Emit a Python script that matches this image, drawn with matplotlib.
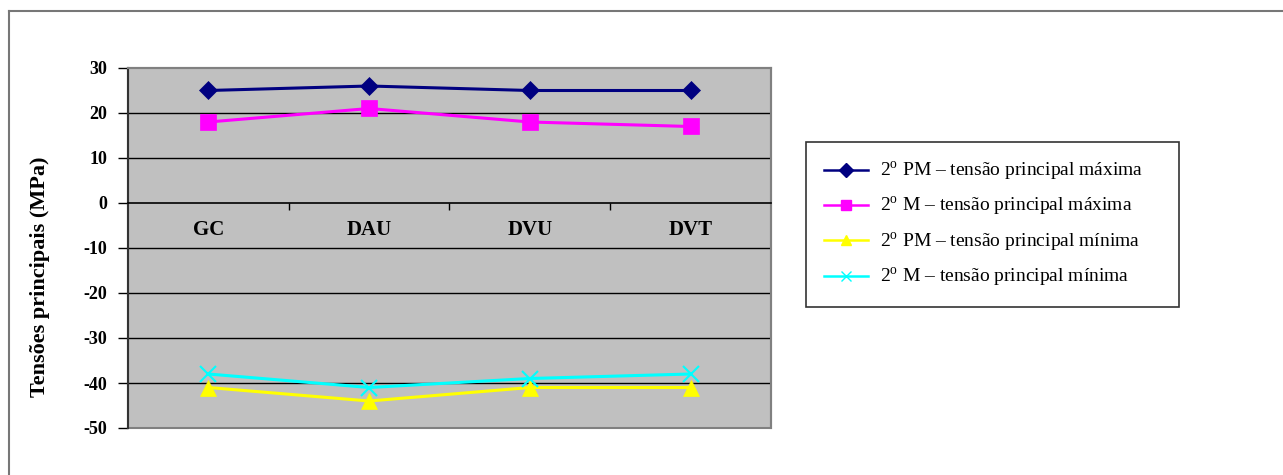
import matplotlib
matplotlib.use('Agg')
import matplotlib.pyplot as plt
from matplotlib.patches import Rectangle
from matplotlib.lines import Line2D

plt.rcParams['font.family'] = ['Liberation Serif', 'DejaVu Serif']
plt.rcParams['mathtext.fontset'] = 'custom'
plt.rcParams['mathtext.rm'] = 'Liberation Serif'

categories = ['GC', 'DAU', 'DVU', 'DVT']
pm_max = [25, 26, 25, 25]
m_max = [18, 21, 18, 17]
pm_min = [-41, -44, -41, -41]
m_min = [-38, -41, -39, -38]
labels = [r'2$^{\mathrm{o}}$ PM – tensão principal máxima',
          r'2$^{\mathrm{o}}$ M – tensão principal máxima',
          r'2$^{\mathrm{o}}$ PM – tensão principal mínima',
          r'2$^{\mathrm{o}}$ M – tensão principal mínima']
yticks = [30, 20, 10, 0, -10, -20, -30, -40, -50]

W, H = 1283, 475
fig = plt.figure(figsize=(W / 100, H / 100), dpi=100)

# outer frame (top and left edges visible)
fig.add_artist(Line2D([9 / W, 9 / W], [0, 1 - 11 / H], color='#777777', lw=1.5))
fig.add_artist(Line2D([9 / W, 1], [1 - 11 / H, 1 - 11 / H], color='#777777', lw=1.5))

ax = fig.add_axes([128 / W, 1 - 428 / H, (771 - 128) / W, (428 - 68) / H])
ax.set_facecolor('#C0C0C0')

x = list(range(len(categories)))
series = [
    (pm_max, '#000080', 'D', 9),
    (m_max, '#FF00FF', 's', 12),
    (pm_min, '#FFFF00', '^', 12),
    (m_min, '#00FFFF', 'x', 12),
]
handles = []
for (vals, col, mk, ms), lab in zip(series, labels):
    ax.plot(x, vals, color=col, lw=2.2, marker=mk, markersize=ms,
            markeredgewidth=1.5 if mk == 'x' else 0.5, markeredgecolor=col,
            clip_on=False, zorder=3)
    handles.append(Line2D([], [], color=col, lw=1.8, marker=mk,
                          markersize=7, markeredgecolor=col, label=lab))

ax.set_xlim(-0.5, 3.5)
ax.set_ylim(-50, 30)
ax.set_yticks(yticks)
ax.set_yticklabels([str(v) for v in yticks], fontsize=13, fontweight='bold')
ax.tick_params(axis='y', length=7, width=1, pad=8, color='black')
for v in yticks[1:-1]:
    if v != 0:
        ax.axhline(v, color='black', lw=1, zorder=1)

for s in ['top', 'right', 'left']:
    ax.spines[s].set_color('#808080')
    ax.spines[s].set_linewidth(1.5)
ax.spines['left'].set_color('#333333')
ax.spines['bottom'].set_position(('data', 0))
ax.spines['bottom'].set_color('black')
ax.spines['bottom'].set_linewidth(1.2)
ax.add_patch(Rectangle((0, 0), 1, 1, transform=ax.transAxes, fill=False,
                       edgecolor='#808080', lw=1.5, zorder=0.5, clip_on=False))

ax.set_xticks([0.5, 1.5, 2.5])
ax.set_xticklabels([])
ax.tick_params(axis='x', which='major', length=5, width=1, direction='out')
ax.set_xticks(x, minor=True)
ax.set_xticklabels(categories, minor=True, fontsize=15, fontweight='bold')
ax.tick_params(axis='x', which='minor', length=0, pad=12)

fig.text(40 / W, 1 - 277 / H, 'Tensões principais (MPa)', rotation=90,
         ha='center', va='center', fontsize=16, fontweight='bold')

leg = fig.legend(handles=handles, loc='center', mode='expand',
                 bbox_to_anchor=(806 / W, 1 - 308 / H, (1179 - 806) / W, 167 / H),
                 fontsize=14, frameon=True, fancybox=False, handlelength=2.3,
                 handletextpad=0.6, labelspacing=0.62, borderpad=0.9,
                 borderaxespad=0)
leg.get_frame().set_edgecolor('black')
leg.get_frame().set_linewidth(1.2)

fig.savefig('out.png', dpi=100)
